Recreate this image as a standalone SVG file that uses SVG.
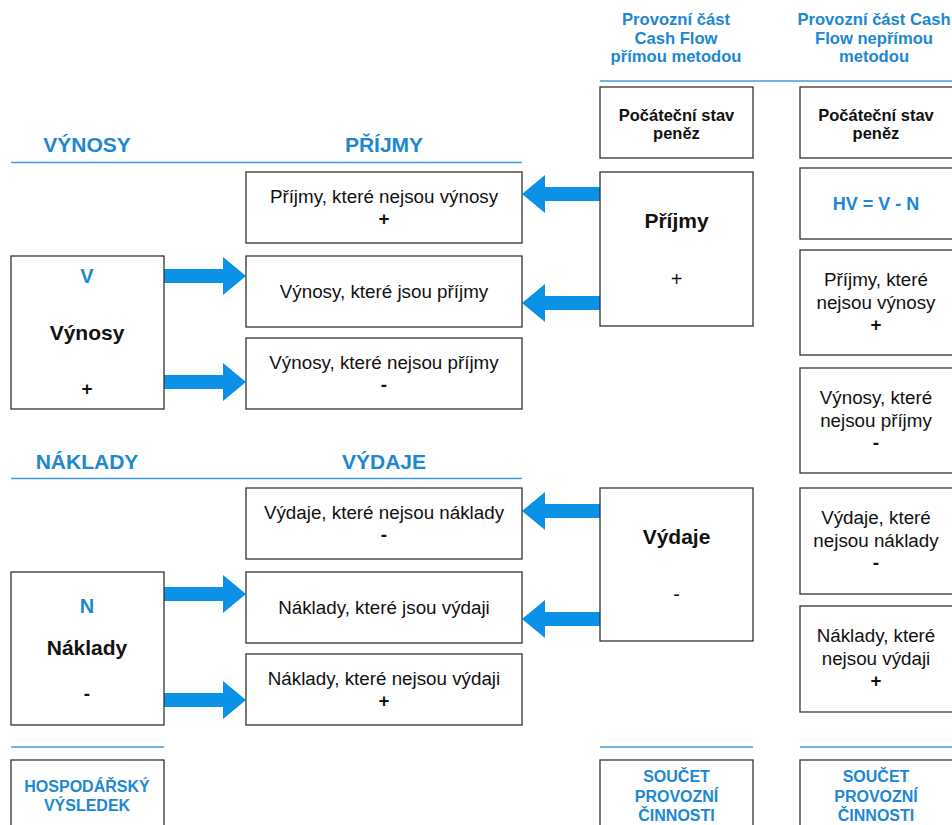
<svg xmlns="http://www.w3.org/2000/svg" width="952" height="825" viewBox="0 0 952 825">
  <style>
    .box { fill: #ffffff; stroke: #333333; stroke-width: 1.3; }
    .rule { stroke: #3f9de0; stroke-width: 1.5; fill: none; }
    .arrow { fill: #0b91e6; stroke: none; }
    text { font-family: "Liberation Sans", Arial, sans-serif; text-anchor: middle; fill: #111111; }
    .head { font-size: 21px; font-weight: bold; fill: #1c87d2; }
    .col { font-size: 16.6px; font-weight: bold; fill: #1c87d2; }
    .sum { font-size: 16px; font-weight: bold; fill: #1c87d2; }
    .body { font-size: 18.8px; }
    .sign { font-size: 18.8px; font-weight: bold; }
    .strong { font-size: 16.5px; font-weight: bold; }
    .title { font-size: 21px; font-weight: bold; }
    .letter { font-size: 20px; font-weight: bold; fill: #1c87d2; }
  </style>

  <rect width="952" height="825" fill="#ffffff"/>

  <!-- column headings and rules -->
  <g id="headings">
    <text class="col" x="676" y="25">Provozní část</text>
    <text class="col" x="676" y="43.5">Cash Flow</text>
    <text class="col" x="676" y="62">přímou metodou</text>
    <text class="col" x="874" y="25">Provozní část Cash</text>
    <text class="col" x="874" y="43.5">Flow nepřímou</text>
    <text class="col" x="874" y="62">metodou</text>
    <line class="rule" x1="600" y1="81" x2="952" y2="81"/>

    <text class="head" x="87" y="152">VÝNOSY</text>
    <text class="head" x="384" y="152">PŘÍJMY</text>
    <line class="rule" x1="11" y1="162.5" x2="522" y2="162.5"/>

    <text class="head" x="87" y="469">NÁKLADY</text>
    <text class="head" x="384" y="469">VÝDAJE</text>
    <line class="rule" x1="11" y1="478.5" x2="522" y2="478.5"/>

    <line class="rule" x1="11" y1="747" x2="164" y2="747"/>
    <line class="rule" x1="600" y1="747" x2="753" y2="747"/>
    <line class="rule" x1="800" y1="747" x2="952" y2="747"/>
  </g>

  <!-- connectors -->
  <g id="connectors">
    <path class="arrow" d="M164,269 H223 V257 L246,276 L223,295 V283 H164 Z"/>
    <path class="arrow" d="M164,375 H223 V363 L246,382 L223,401 V389 H164 Z"/>
    <path class="arrow" d="M164,587 H223 V575 L246,594 L223,613 V601 H164 Z"/>
    <path class="arrow" d="M164,693 H223 V681 L246,700 L223,719 V707 H164 Z"/>
    <path class="arrow" d="M600,187 H545 V175 L522,194 L545,213 V201 H600 Z"/>
    <path class="arrow" d="M600,296 H545 V284 L522,303 L545,322 V310 H600 Z"/>
    <path class="arrow" d="M600,504 H545 V492 L522,511 L545,530 V518 H600 Z"/>
    <path class="arrow" d="M600,612 H545 V600 L522,619 L545,638 V626 H600 Z"/>
  </g>

  <!-- left column -->
  <g id="node-vynosy">
    <rect class="box" x="11" y="256" width="153" height="153"/>
    <text class="letter" x="87" y="283">V</text>
    <text class="title" x="87" y="340">Výnosy</text>
    <text class="sign" x="87" y="395">+</text>
  </g>
  <g id="node-naklady">
    <rect class="box" x="11" y="572" width="153" height="153"/>
    <text class="letter" x="87" y="613">N</text>
    <text class="title" x="87" y="655">Náklady</text>
    <text class="sign" x="87" y="700">-</text>
  </g>
  <g id="node-hv">
    <rect class="box" x="11" y="760" width="153" height="80"/>
    <text class="sum" x="87" y="792">HOSPODÁŘSKÝ</text>
    <text class="sum" x="87" y="810.5">VÝSLEDEK</text>
  </g>

  <!-- middle column -->
  <g id="node-prijmy-nejsou-vynosy">
    <rect class="box" x="246" y="172" width="276" height="71"/>
    <text class="body" x="384" y="203">Příjmy, které nejsou výnosy</text>
    <text class="sign" x="384" y="224.5">+</text>
  </g>
  <g id="node-vynosy-jsou-prijmy">
    <rect class="box" x="246" y="256" width="276" height="71"/>
    <text class="body" x="384" y="298">Výnosy, které jsou příjmy</text>
  </g>
  <g id="node-vynosy-nejsou-prijmy">
    <rect class="box" x="246" y="338" width="276" height="71"/>
    <text class="body" x="384" y="369">Výnosy, které nejsou příjmy</text>
    <text class="sign" x="384" y="390.5">-</text>
  </g>
  <g id="node-vydaje-nejsou-naklady">
    <rect class="box" x="246" y="488" width="276" height="71"/>
    <text class="body" x="384" y="519">Výdaje, které nejsou náklady</text>
    <text class="sign" x="384" y="540.5">-</text>
  </g>
  <g id="node-naklady-jsou-vydaji">
    <rect class="box" x="246" y="572" width="276" height="71"/>
    <text class="body" x="384" y="614">Náklady, které jsou výdaji</text>
  </g>
  <g id="node-naklady-nejsou-vydaji">
    <rect class="box" x="246" y="654" width="276" height="71"/>
    <text class="body" x="384" y="685">Náklady, které nejsou výdaji</text>
    <text class="sign" x="384" y="706.5">+</text>
  </g>

  <!-- direct method column -->
  <g id="node-pocatecni-primo">
    <rect class="box" x="600" y="87" width="153" height="71"/>
    <text class="strong" x="676.5" y="120.5">Počáteční stav</text>
    <text class="strong" x="676.5" y="139">peněz</text>
  </g>
  <g id="node-prijmy">
    <rect class="box" x="600" y="172" width="153" height="154"/>
    <text class="title" x="676.5" y="228">Příjmy</text>
    <text class="body" x="676.5" y="286" style="font-size:20px">+</text>
  </g>
  <g id="node-vydaje">
    <rect class="box" x="600" y="488" width="153" height="153"/>
    <text class="title" x="676.5" y="544">Výdaje</text>
    <text class="body" x="676.5" y="601" style="font-size:20px">-</text>
  </g>
  <g id="node-soucet-primo">
    <rect class="box" x="600" y="760" width="153" height="80"/>
    <text class="sum" x="676.5" y="782">SOUČET</text>
    <text class="sum" x="676.5" y="801.5">PROVOZNÍ</text>
    <text class="sum" x="676.5" y="821">ČINNOSTI</text>
  </g>

  <!-- indirect method column -->
  <g id="node-pocatecni-neprimo">
    <rect class="box" x="800" y="87" width="154" height="71"/>
    <text class="strong" x="876" y="120.5">Počáteční stav</text>
    <text class="strong" x="876" y="139">peněz</text>
  </g>
  <g id="node-hv-vzorec">
    <rect class="box" x="800" y="168" width="154" height="71"/>
    <text class="letter" x="876" y="210" style="font-size:18px">HV = V - N</text>
  </g>
  <g id="node-prijmy-nejsou-vynosy-2">
    <rect class="box" x="800" y="250" width="154" height="105"/>
    <text class="body" x="876" y="286">Příjmy, které</text>
    <text class="body" x="876" y="308.5">nejsou výnosy</text>
    <text class="sign" x="876" y="331">+</text>
  </g>
  <g id="node-vynosy-nejsou-prijmy-2">
    <rect class="box" x="800" y="368" width="154" height="105"/>
    <text class="body" x="876" y="404">Výnosy, které</text>
    <text class="body" x="876" y="426.5">nejsou příjmy</text>
    <text class="sign" x="876" y="449">-</text>
  </g>
  <g id="node-vydaje-nejsou-naklady-2">
    <rect class="box" x="800" y="488" width="154" height="106"/>
    <text class="body" x="876" y="524">Výdaje, které</text>
    <text class="body" x="876" y="546.5">nejsou náklady</text>
    <text class="sign" x="876" y="569">-</text>
  </g>
  <g id="node-naklady-nejsou-vydaji-2">
    <rect class="box" x="800" y="606" width="154" height="106"/>
    <text class="body" x="876" y="642">Náklady, které</text>
    <text class="body" x="876" y="664.5">nejsou výdaji</text>
    <text class="sign" x="876" y="687">+</text>
  </g>
  <g id="node-soucet-neprimo">
    <rect class="box" x="800" y="760" width="154" height="80"/>
    <text class="sum" x="876" y="782">SOUČET</text>
    <text class="sum" x="876" y="801.5">PROVOZNÍ</text>
    <text class="sum" x="876" y="821">ČINNOSTI</text>
  </g>
</svg>
